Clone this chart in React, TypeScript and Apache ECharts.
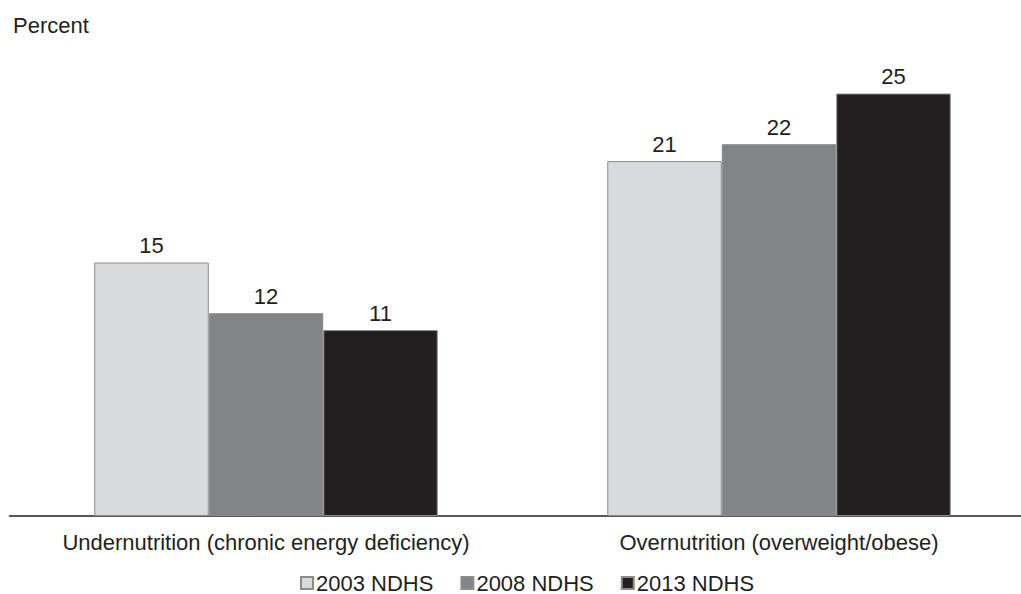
import React, { useEffect, useRef } from "react";
import * as echarts from "echarts";

// Nutritional status categories (x axis)
const categories = [
  "Undernutrition (chronic energy deficiency)",
  "Overnutrition (overweight/obese)",
];

// Survey rounds, one series each
const surveys = ["2003 NDHS", "2008 NDHS", "2013 NDHS"];

// Percent values per survey, in category order
const values2003 = [15, 21];
const values2008 = [12, 22];
const values2013 = [11, 25];

const seriesValues = [values2003, values2008, values2013];
const seriesColors = ["#d9dadc", "#838487", "#231f20"];

const FONT = "'Liberation Sans', Arial, Helvetica, sans-serif";
const TEXT = "#231f20";

export default function App() {
  const ref = useRef<HTMLDivElement>(null);

  useEffect(() => {
    if (!ref.current) return;
    const chart = echarts.init(ref.current, undefined, { renderer: "svg" });

    chart.setOption({
      animation: false,
      backgroundColor: "#ffffff",
      textStyle: { fontFamily: FONT, color: TEXT },
      title: {
        text: "Percent",
        left: 13,
        top: 14,
        padding: 0,
        textStyle: {
          fontFamily: FONT,
          fontSize: 22,
          fontWeight: "normal",
          color: TEXT,
        },
      },
      legend: {
        data: surveys,
        left: 300,
        top: 572,
        padding: 0,
        icon: "rect",
        itemWidth: 12,
        itemHeight: 12,
        itemGap: 27,
        textStyle: {
          fontFamily: FONT,
          fontSize: 22,
          color: TEXT,
          padding: [0, 0, 0, -2],
        },
      },
      // the plot runs a little past the right edge, so the baseline reaches it
      grid: {
        left: 9.5,
        width: 1026,
        top: 9,
        bottom: 78,
        containLabel: false,
        outerBoundsMode: "none",
      },
      xAxis: {
        type: "category",
        data: categories,
        axisLine: { show: true, lineStyle: { color: TEXT, width: 1.5 } },
        axisTick: { show: false },
        axisLabel: {
          fontFamily: FONT,
          fontSize: 22,
          color: TEXT,
          margin: 15,
          interval: 0,
        },
      },
      yAxis: {
        type: "value",
        min: 0,
        max: 30,
        show: false,
        splitLine: { show: false },
      },
      series: surveys.map((name, i) => ({
        name,
        type: "bar",
        data: seriesValues[i],
        barWidth: 114.5,
        barGap: "0%",
        itemStyle: {
          color: seriesColors[i],
          borderColor: "#8c8c8c",
          borderWidth: 1,
        },
        label: {
          show: true,
          position: "top",
          distance: 6,
          fontFamily: FONT,
          fontSize: 22,
          color: TEXT,
        },
      })),
    });

    return () => chart.dispose();
  }, []);

  return (
    <div
      ref={ref}
      style={{ position: "fixed", left: 0, top: 0, width: 1021, height: 594 }}
    />
  );
}
